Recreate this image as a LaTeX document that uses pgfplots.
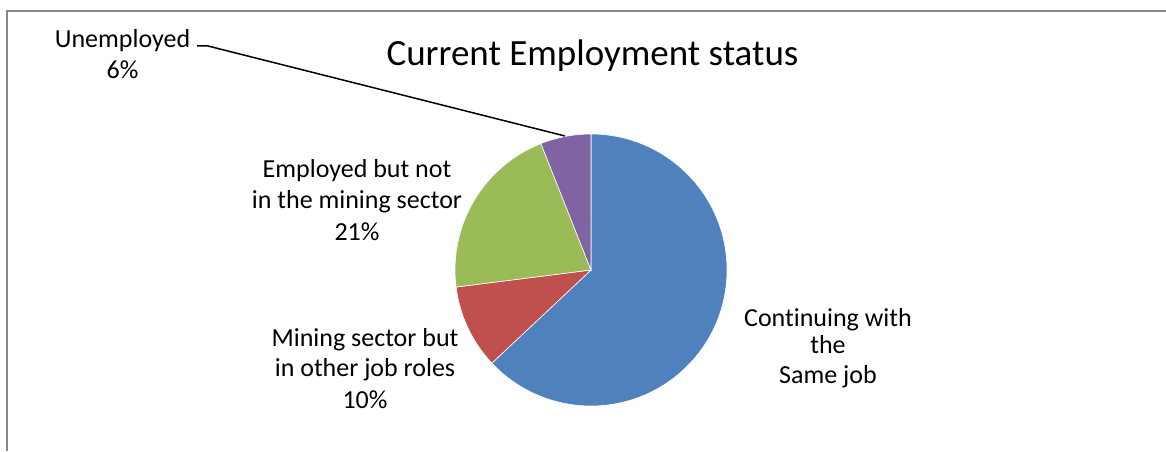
\documentclass[border=0pt]{standalone}
\usepackage{fontspec}
\setmainfont[Ligatures=NoCommon]{Carlito}
\usepackage{pgfplots}
\usepackage{pgfplotstable}
\pgfplotsset{compat=1.18}
\definecolor{cBlue}{HTML}{4F81BD}
\definecolor{cRed}{HTML}{C0504D}
\definecolor{cGreen}{HTML}{9BBB59}
\definecolor{cPurple}{HTML}{8064A2}
\definecolor{frameGray}{HTML}{878787}
\pgfplotstableread{
label value
Continuing 63
Mining 10
Employed 21
Unemployed 6
}\piedata
\begin{document}
\begin{tikzpicture}
\useasboundingbox (0,0) rectangle (583pt,225.5pt);
\pgfplotstablegetelem{0}{value}\of\piedata \pgfmathsetmacro\vA{\pgfplotsretval}
\pgfplotstablegetelem{1}{value}\of\piedata \pgfmathsetmacro\vB{\pgfplotsretval}
\pgfplotstablegetelem{2}{value}\of\piedata \pgfmathsetmacro\vC{\pgfplotsretval}
\pgfplotstablegetelem{3}{value}\of\piedata \pgfmathsetmacro\vD{\pgfplotsretval}
\pgfmathsetmacro\tot{\vA+\vB+\vC+\vD}
\pgfmathsetmacro\aA{90}
\pgfmathsetmacro\aB{\aA-\vA/\tot*360}
\pgfmathsetmacro\aC{\aB-\vB/\tot*360}
\pgfmathsetmacro\aD{\aC-\vC/\tot*360}
\pgfmathsetmacro\aE{\aD-\vD/\tot*360}
\begin{axis}[at={(0,0)},anchor=south west,scale only axis,
  width=583pt,height=225.5pt,xmin=0,xmax=1166,ymin=0,ymax=451,
  hide axis,clip=false]
% frame
\draw[frameGray,line width=1.1pt] (axis cs:7,0) -- (axis cs:7,440) -- (axis cs:1166,440);
% slices
\filldraw[fill=cBlue,draw=white,line width=0.3pt] (axis cs:591,181) -- ++(\aA:68pt) arc[start angle=\aA,end angle=\aB,radius=68pt] -- cycle;
\filldraw[fill=cRed,draw=white,line width=0.3pt] (axis cs:591,181) -- ++(\aB:68pt) arc[start angle=\aB,end angle=\aC,radius=68pt] -- cycle;
\filldraw[fill=cGreen,draw=white,line width=0.3pt] (axis cs:591,181) -- ++(\aC:68pt) arc[start angle=\aC,end angle=\aD,radius=68pt] -- cycle;
\filldraw[fill=cPurple,draw=white,line width=0.3pt] (axis cs:591,181) -- ++(\aD:68pt) arc[start angle=\aD,end angle=\aE,radius=68pt] -- cycle;
% leader line
\draw[black,line width=0.75pt] (axis cs:197,405) -- (axis cs:208,405) -- (axis cs:565,315);
% title
\node[anchor=base,font=\fontsize{18.5}{22}\selectfont] at (axis cs:592.5,386) {Current Employment status};
% labels
\tikzset{lbl/.style={anchor=base,font=\fontsize{13}{15.5}\selectfont,inner sep=0pt}}
\node[lbl] at (axis cs:122.5,403) {Unemployed};
\node[lbl] at (axis cs:122.5,372) {6\%};
\node[lbl] at (axis cs:357,273.3) {Employed but not};
\node[lbl] at (axis cs:357,242.7) {in the mining sector};
\node[lbl] at (axis cs:357,211) {21\%};
\node[lbl] at (axis cs:365,105) {Mining sector but};
\node[lbl] at (axis cs:365,74.3) {in other job roles};
\node[lbl] at (axis cs:365,42.7) {10\%};
\node[lbl] at (axis cs:828,125) {Continuing with};
\node[lbl] at (axis cs:828,97.7) {the};
\node[lbl] at (axis cs:828,67.7) {Same job};
\end{axis}
\end{tikzpicture}
\end{document}
